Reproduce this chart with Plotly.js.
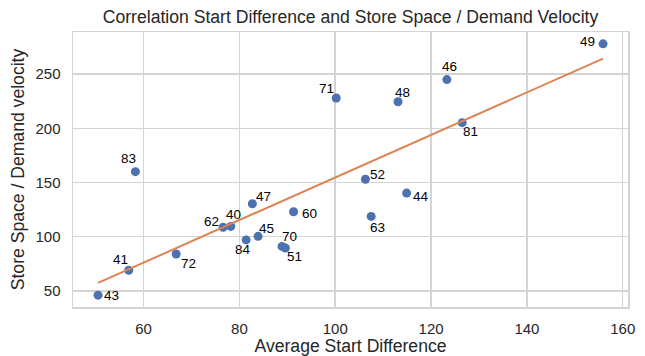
<!DOCTYPE html>
<html>
<head>
<meta charset="utf-8">
<script src="https://cdn.plot.ly/plotly-3.0.1.min.js"></script>
<style>
  html, body { margin: 0; padding: 0; background: #fff; }
  #chart { width: 645px; height: 356px; }
</style>
</head>
<body>
<div id="chart"></div>
<script>
// Store ids and their measurements
const storeIds = ['43', '41', '72', '83', '62', '40', '84', '45', '47', '60', '70', '51', '71', '48', '46', '81', '52', '44', '63', '49'];
const avgStartDiff = [50.5, 56.9, 66.8, 58.3, 76.6, 78.2, 81.4, 83.9, 82.7, 91.3, 88.9, 89.6, 100.2, 113.1, 123.3, 126.5, 106.3, 114.9, 107.5, 155.9];
const spacePerVelocity = [46, 69, 84, 160, 108.6, 109.5, 97, 100.3, 130.4, 123, 91, 89.6, 228, 224.5, 245, 205.2, 153, 140.2, 118.7, 278];

// Fitted regression line end points
const fitX = [50.5, 155.9];
const fitY = [57.4, 264.4];

// Label offsets (px) so the ids do not sit on the dots
const labelDx = [13, -8, 12, -7, -12, 3, -3, 8, 11, 16, 7, 9, -10, 4, 3, 8, 12, 14, 6, -16];
const labelDy = [0, 11, -9, 13, 6, 12, -10, 8, 7, -2, 10, -9, 9, 9, 13, -9, 5, -3, -11, 2];

const ink = '#262626';
const grid = '#d4d4d4';
const font = 'Liberation Sans, Arial, sans-serif';

const traces = [
  {
    x: avgStartDiff, y: spacePerVelocity, mode: 'markers', type: 'scatter',
    marker: { color: '#4c72b0', size: 9 },
    hoverinfo: 'skip'
  },
  {
    x: fitX, y: fitY, mode: 'lines', type: 'scatter',
    line: { color: '#dd8452', width: 2 },
    hoverinfo: 'skip'
  }
];

const annotations = storeIds.map((id, i) => ({
  x: avgStartDiff[i], y: spacePerVelocity[i], xref: 'x', yref: 'y',
  text: id, showarrow: false,
  xshift: labelDx[i], yshift: labelDy[i],
  font: { family: font, size: 13.5, color: '#000' }
}));

const layout = {
  width: 645, height: 356,
  margin: { l: 73, r: 17, t: 32, b: 48.5 },
  paper_bgcolor: '#fff', plot_bgcolor: '#fff',
  showlegend: false,
  title: {
    text: 'Correlation Start Difference and Store Space / Demand Velocity',
    font: { family: font, size: 17.6, color: ink },
    x: 0.5, xref: 'paper', y: 0.952, yanchor: 'middle'
  },
  xaxis: {
    range: [45.27, 161.1],
    tickvals: [60, 80, 100, 120, 140, 160],
    showgrid: true, gridcolor: grid, gridwidth: 1.5,
    zeroline: false,
    showline: true, linecolor: grid, linewidth: 1.5, mirror: true,
    ticks: '', ticklabelstandoff: 7,
    tickfont: { family: font, size: 15, color: ink },
    title: { text: 'Average Start Difference', font: { family: font, size: 17.6, color: ink }, standoff: 4 }
  },
  yaxis: {
    range: [35.1, 288.9],
    tickvals: [50, 100, 150, 200, 250],
    showgrid: true, gridcolor: grid, gridwidth: 1.5,
    zeroline: false,
    showline: true, linecolor: grid, linewidth: 1.5, mirror: true,
    ticks: '', ticklabelstandoff: 8,
    tickfont: { family: font, size: 15, color: ink },
    title: { text: 'Store Space / Demand velocity', font: { family: font, size: 17.6, color: ink }, standoff: 6 }
  },
  annotations: annotations
};

Plotly.newPlot('chart', traces, layout, { displayModeBar: false, staticPlot: true });
</script>
</body>
</html>
